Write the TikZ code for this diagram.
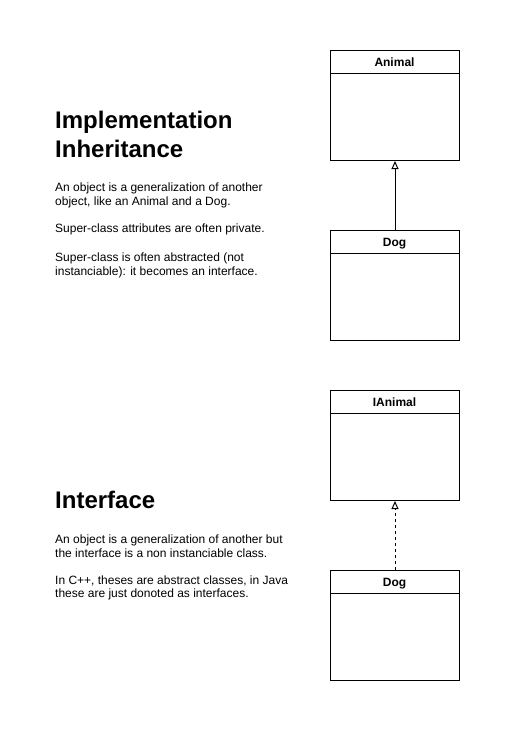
\documentclass[tikz,border=0pt]{standalone}
\usepackage{fontspec}
\setmainfont{Liberation Sans}
\usetikzlibrary{arrows.meta}
\tikzset{
  classbox/.style={draw=black, line width=1pt, fill=white, minimum width=129pt, minimum height=110pt, anchor=north west, inner sep=0pt},
  classname/.style={anchor=base, inner sep=0pt, font=\fontsize{12}{14}\selectfont\bfseries},
  titletext/.style={anchor=base west, inner sep=0pt, font=\fontsize{24}{29}\selectfont\bfseries},
  bodytext/.style={anchor=base west, inner sep=0pt, font=\fontsize{12}{14}\selectfont},
  inherit/.style={draw=black, line width=1pt, -{Triangle[open, length=8pt, width=7pt, line width=1pt]}},
  realize/.style={inherit, dash pattern=on 3pt off 3pt}
}
\begin{document}
\begin{tikzpicture}[x=1pt, y=-1pt]
\useasboundingbox (0,0) rectangle (510,731);
\fill[white] (0,0) rectangle (510,731);

% Top section text
\node[titletext] (h1a) at (55,128) {Implementation};
\node[titletext] (h1b) at (55,157) {Inheritance};
\node[bodytext] (p1a) at (55,191) {An object is a generalization of another};
\node[bodytext] (p1b) at (55,205) {object, like an Animal and a Dog.};
\node[bodytext] (p1c) at (55,232) {Super-class attributes are often private.};
\node[bodytext] (p1d) at (55,261) {Super-class is often abstracted (not};
\node[bodytext] (p1e) at (55,275) {instanciable): it becomes an interface.};

% Bottom section text
\node[titletext] (h2) at (55,508) {Interface};
\node[bodytext] (p2a) at (55,543) {An object is a generalization of another but};
\node[bodytext] (p2b) at (55,557) {the interface is a non instanciable class.};
\node[bodytext] (p2c) at (55,584) {In C++, theses are abstract classes, in Java};
\node[bodytext] (p2d) at (55,597) {these are just donoted as interfaces.};

% Classes
\node[classbox] (animal) at (330,50) {};
\draw[line width=1pt] ([yshift=-23pt]animal.north west) -- ([yshift=-23pt]animal.north east);
\node[classname] (animalname) at (394.5,66) {Animal};

\node[classbox] (dog) at (330,230) {};
\draw[line width=1pt] ([yshift=-23pt]dog.north west) -- ([yshift=-23pt]dog.north east);
\node[classname] (dogname) at (394.5,246) {Dog};

\node[classbox] (ianimal) at (330,390) {};
\draw[line width=1pt] ([yshift=-23pt]ianimal.north west) -- ([yshift=-23pt]ianimal.north east);
\node[classname] (ianimalname) at (394.5,406) {IAnimal};

\node[classbox] (dog2) at (330,570) {};
\draw[line width=1pt] ([yshift=-23pt]dog2.north west) -- ([yshift=-23pt]dog2.north east);
\node[classname] (dog2name) at (394.5,586) {Dog};

% Connectors
\draw[inherit] (dog.north) -- (animal.south);
\draw[realize] (dog2.north) -- (ianimal.south);
\end{tikzpicture}
\end{document}
